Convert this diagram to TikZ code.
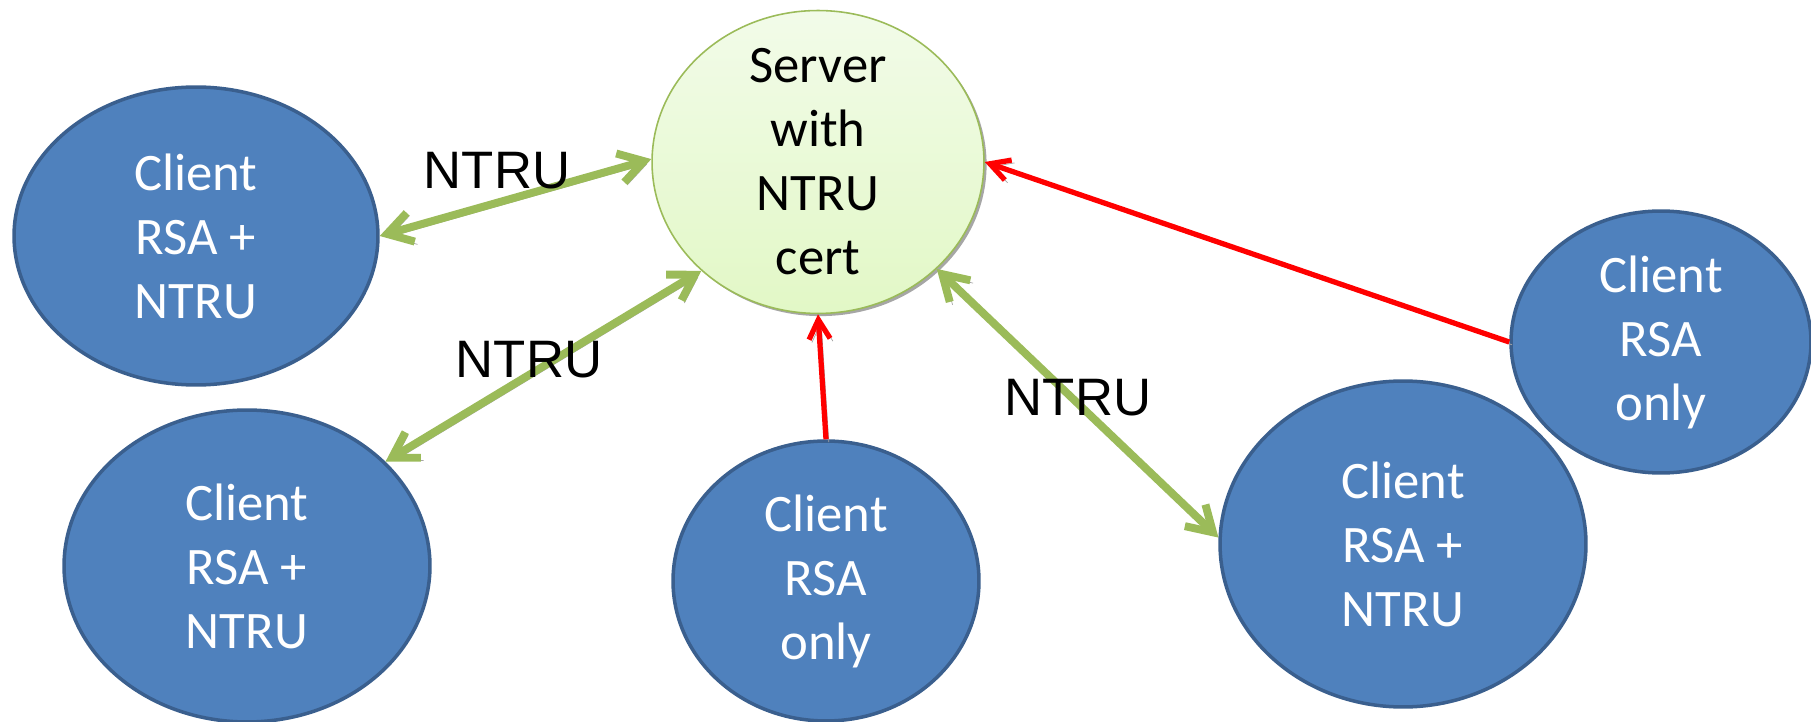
\documentclass[tikz,border=0pt]{standalone}
\usepackage{fontspec}
\setmainfont{Carlito}
\newfontfamily\arialfont{Liberation Sans}
\usetikzlibrary{arrows.meta,shapes.geometric,shadows}
\definecolor{clientblue}{HTML}{4F81BD}
\definecolor{clientedge}{HTML}{3A5F8E}
\definecolor{linkgreen}{HTML}{9BBB59}
\definecolor{srvtop}{HTML}{F2FBE9}
\definecolor{srvbot}{HTML}{E2F8C6}
\definecolor{shadowgray}{HTML}{A6A6A6}
\begin{document}
\begin{tikzpicture}[x=0.02cm,y=-0.02cm,
 client/.style={ellipse,draw=clientedge,line width=2pt,fill=clientblue,text=white,align=center,
   font=\fontsize{30}{36.4}\selectfont,inner sep=-6pt},
 server/.style={ellipse,draw=linkgreen,line width=0.9pt,top color=srvtop,bottom color=srvbot,align=center,
   font=\fontsize{30}{36.4}\selectfont,inner sep=-10pt,
   drop shadow={shadow xshift=1.5pt,shadow yshift=-1.5pt,fill=shadowgray,opacity=1}},
 shade/.style={preaction={draw=shadowgray,transform canvas={shift={(1.6pt,-1.6pt)}}}},
 ntru/.style={shade,draw=linkgreen,line width=4.5pt,
   {Straight Barb[length=14pt,width=17pt]}-{Straight Barb[length=14pt,width=17pt]}},
 rsa/.style={shade,draw=red,line width=3pt,-{Straight Barb[length=11pt,width=12pt]}},
 lbl/.style={font=\arialfont\fontsize{30}{36}\selectfont,inner sep=0pt}]
 \useasboundingbox (0,0) rectangle (1811,722);
 % server and clients
 \node[server,minimum width=6.64cm,minimum height=6.06cm] (srv) at (818,162) {Server\\with\\NTRU\\cert};
 \node[client,minimum width=7.28cm,minimum height=5.96cm] (c1) at (196,236) {Client\\RSA +\\NTRU};
 \node[client,minimum width=7.32cm,minimum height=6.24cm] (c2) at (247,566) {Client\\RSA +\\NTRU};
 \node[client,minimum width=6.12cm,minimum height=5.6cm] (c3) at (826,581) {Client\\RSA\\only};
 \node[client,minimum width=7.32cm,minimum height=6.52cm] (c4) at (1403,544) {Client\\RSA +\\NTRU};
 \node[client,minimum width=6.0cm,minimum height=5.24cm] (c5) at (1661,342) {Client\\RSA\\only};
 % links
 \draw[ntru] (c1.east) -- (srv.179);
 \draw[ntru] (c2.37) -- (srv.223);
 \draw[ntru] (c4.178) -- (srv.-42);
 \draw[rsa] (c3.north) -- (srv.south);
 \draw[rsa] (c5.west) -- (srv.east);
 \node[lbl] (l1) at (497,171) {NTRU};
 \node[lbl] (l2) at (529,360) {NTRU};
 \node[lbl] (l3) at (1078,398) {NTRU};
\end{tikzpicture}
\end{document}
